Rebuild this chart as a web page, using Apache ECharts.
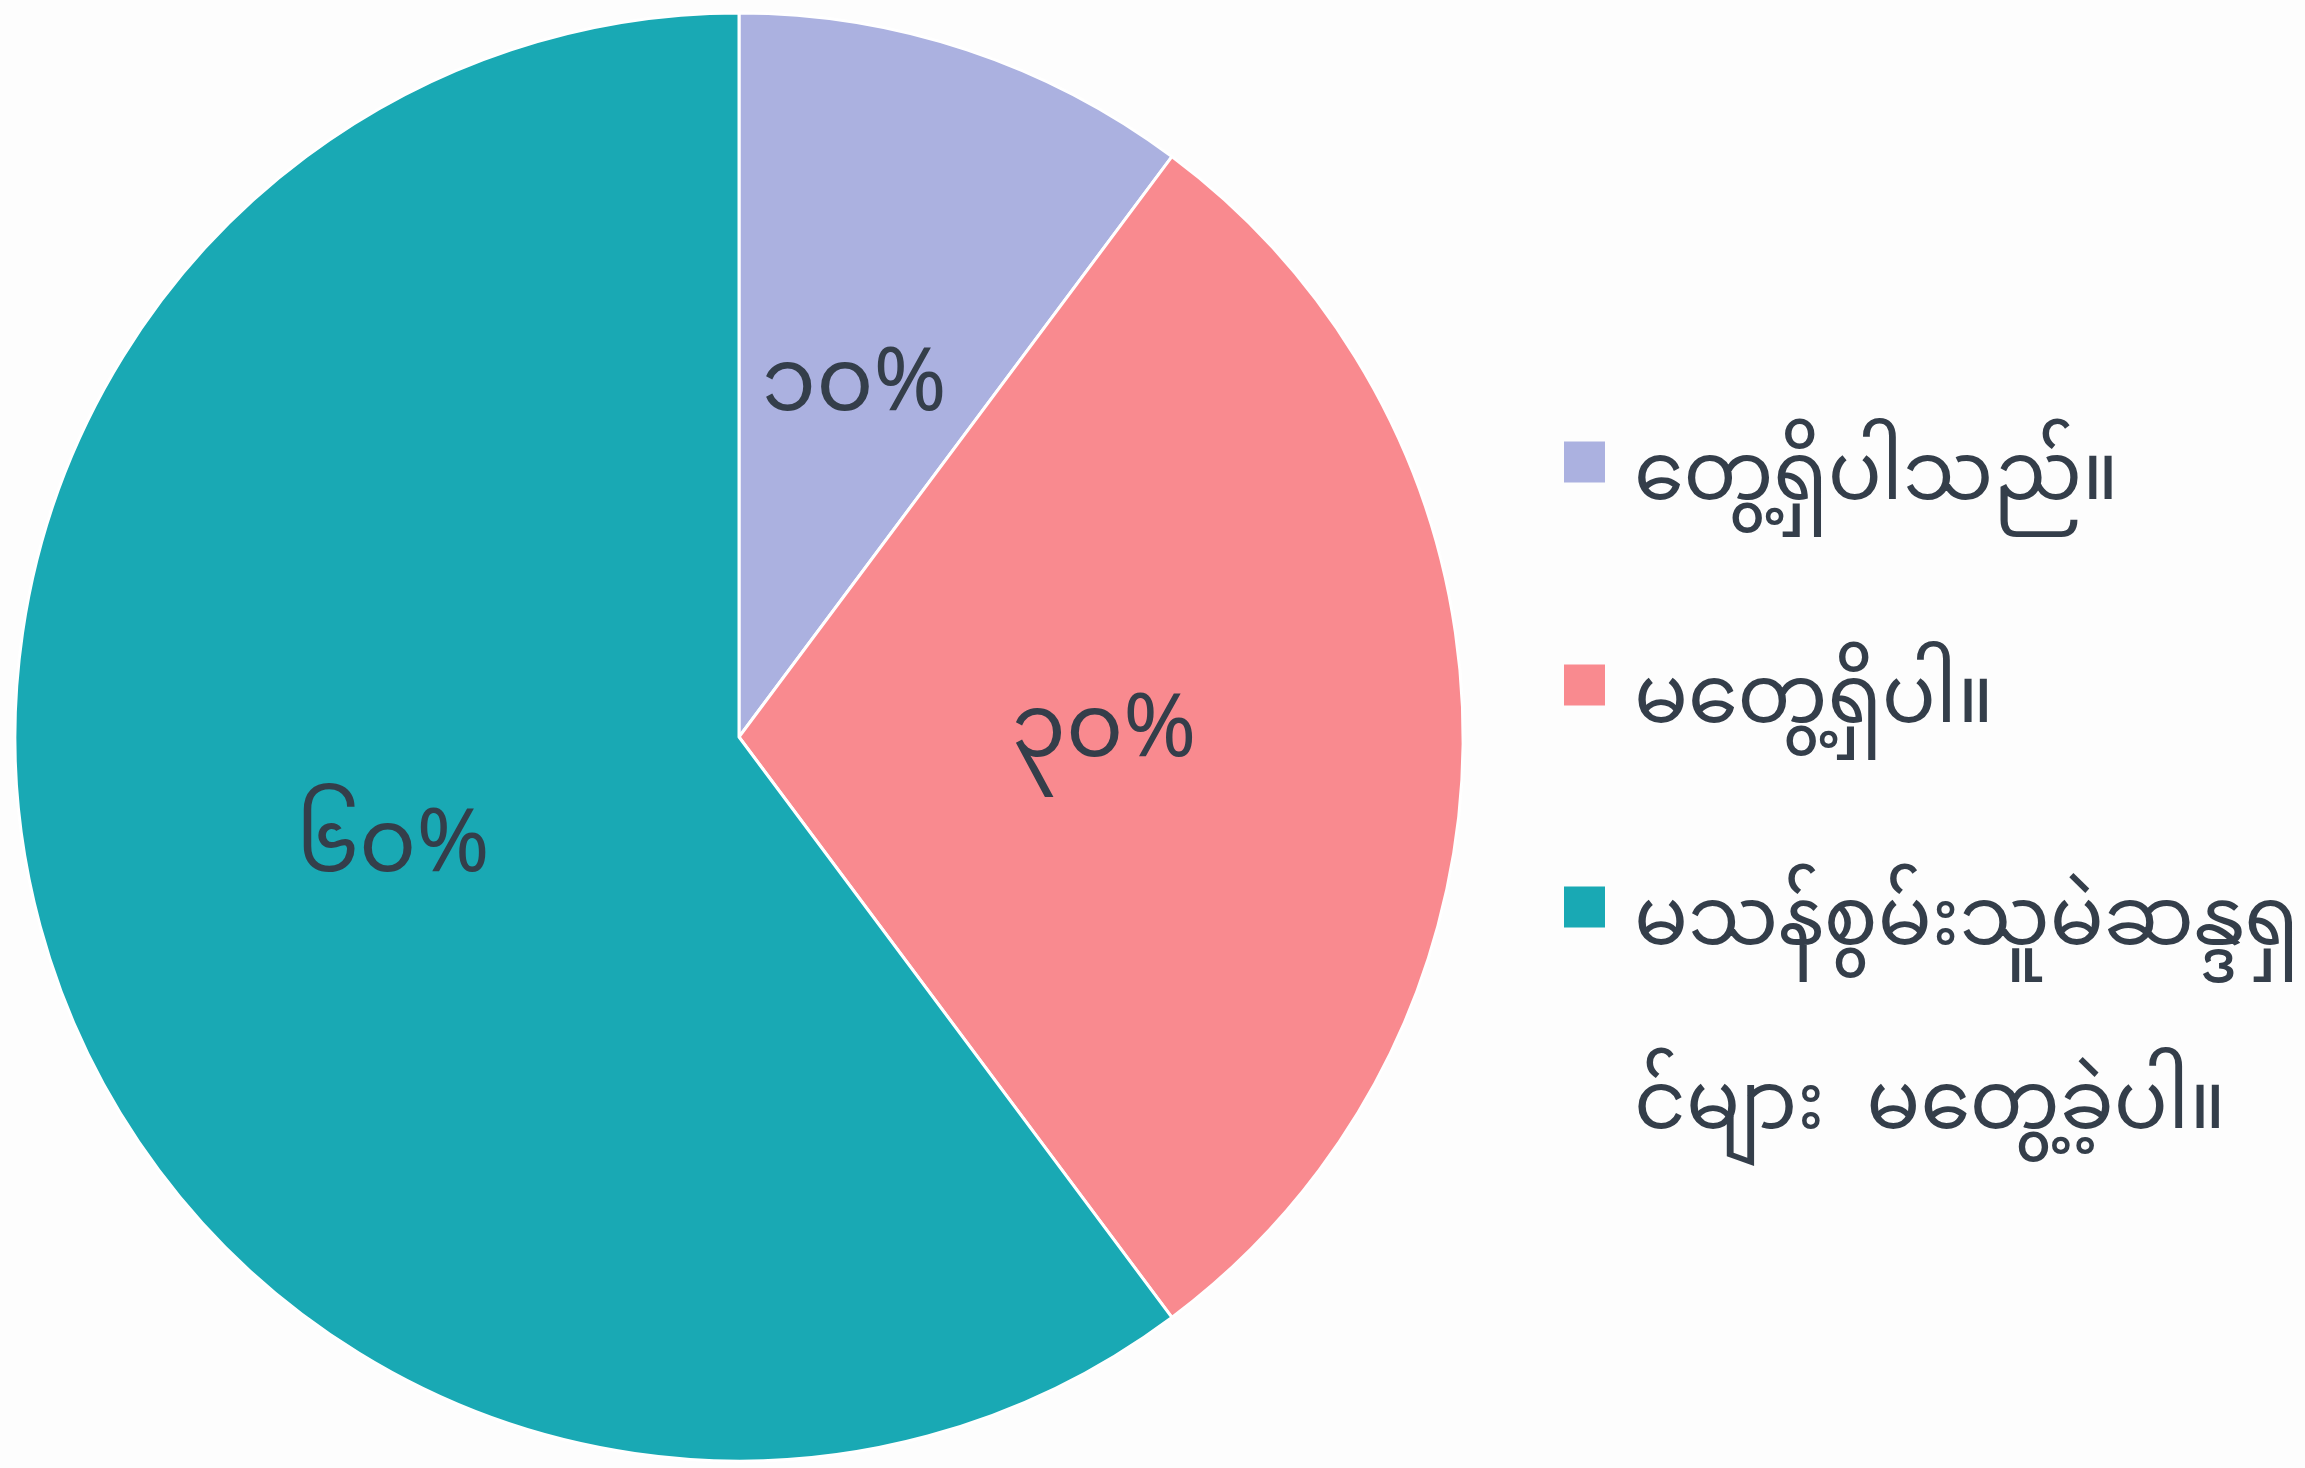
<!DOCTYPE html>
<html>
<head>
<meta charset="utf-8">
<script src="https://cdn.jsdelivr.net/npm/echarts@6/dist/echarts.min.js"></script>
<style>
html, body { margin: 0; padding: 0; background: #fdfdfd; }
#main { width: 2305px; height: 1468px; }
</style>
</head>
<body>
<div id="main"></div>
<script>
// data
var names = ['တွေ့ရှိပါသည်။', 'မတွေ့ရှိပါ။', 'မသန်စွမ်းသူမဲဆန္ဒရှင်များ  မတွေ့ခဲ့ပါ။'];
var legendLines = [['တွေ့ရှိပါသည်။'], ['မတွေ့ရှိပါ။'], ['မသန်စွမ်းသူမဲဆန္ဒရှ', 'င်များ  မတွေ့ခဲ့ပါ။']];
var values = [10.2, 29.6, 60.2];
var colors = ['#abb1e0', '#f98a8f', '#19a9b4'];
var mmDigits = ['၀', '၁', '၂', '၃', '၄', '၅', '၆', '၇', '၈', '၉'];

var font = '"Noto Sans Myanmar", "Padauk", "Myanmar Text", "Noto Sans", sans-serif';
var textColor = '#343e4a';

function toMyanmar(n) {
    return String(n).replace(/[0-9]/g, function (c) { return mmDigits[+c]; });
}

var myChart = echarts.init(document.getElementById('main'));

var legendText = {
    color: textColor,
    fontSize: 80,
    fontFamily: font,
    lineHeight: 184,
    padding: [0, 0, 0, 24]
};
function legendLabel(name) {
    return legendLines[names.indexOf(name)].join('\n');
}
// square sits at the top of a taller icon box, so the text lands a bit lower
function squareIcon(h) {
    return 'path://M0,0H41V41H0Z M20,' + h + 'L21,' + h + 'Z';
}

option = {
    backgroundColor: '#fdfdfd',
    color: colors,
    legend: [{
        // first two items
        orient: 'vertical',
        left: 1564,
        top: 398,
        padding: 0,
        itemWidth: 41,
        itemHeight: 97,
        itemGap: 39,
        icon: squareIcon(97),
        itemStyle: { borderWidth: 0 },
        textStyle: legendText,
        formatter: legendLabel,
        data: [names[0], names[1]]
    }, {
        // wrapped item, square kept on its first line
        orient: 'vertical',
        left: 1564,
        top: 843,
        padding: 0,
        itemWidth: 41,
        itemHeight: 281,
        icon: squareIcon(281),
        itemStyle: { borderWidth: 0 },
        textStyle: legendText,
        formatter: legendLabel,
        data: [names[2]]
    }],
    series: [{
        type: 'pie',
        center: [739, 737],
        radius: 724,
        startAngle: 90,
        clockwise: true,
        avoidLabelOverlap: false,
        itemStyle: {
            borderColor: '#ffffff',
            borderWidth: 3
        },
        label: {
            show: true,
            position: 'inside',
            offset: [0, 10],
            color: textColor,
            fontSize: 88,
            fontFamily: font,
            formatter: function (p) {
                return toMyanmar(Math.round(p.percent)) + '%';
            }
        },
        labelLine: { show: false },
        emphasis: { disabled: true },
        data: names.map(function (n, i) {
            return { name: n, value: values[i] };
        })
    }]
};
myChart.setOption(option);
</script>
</body>
</html>
